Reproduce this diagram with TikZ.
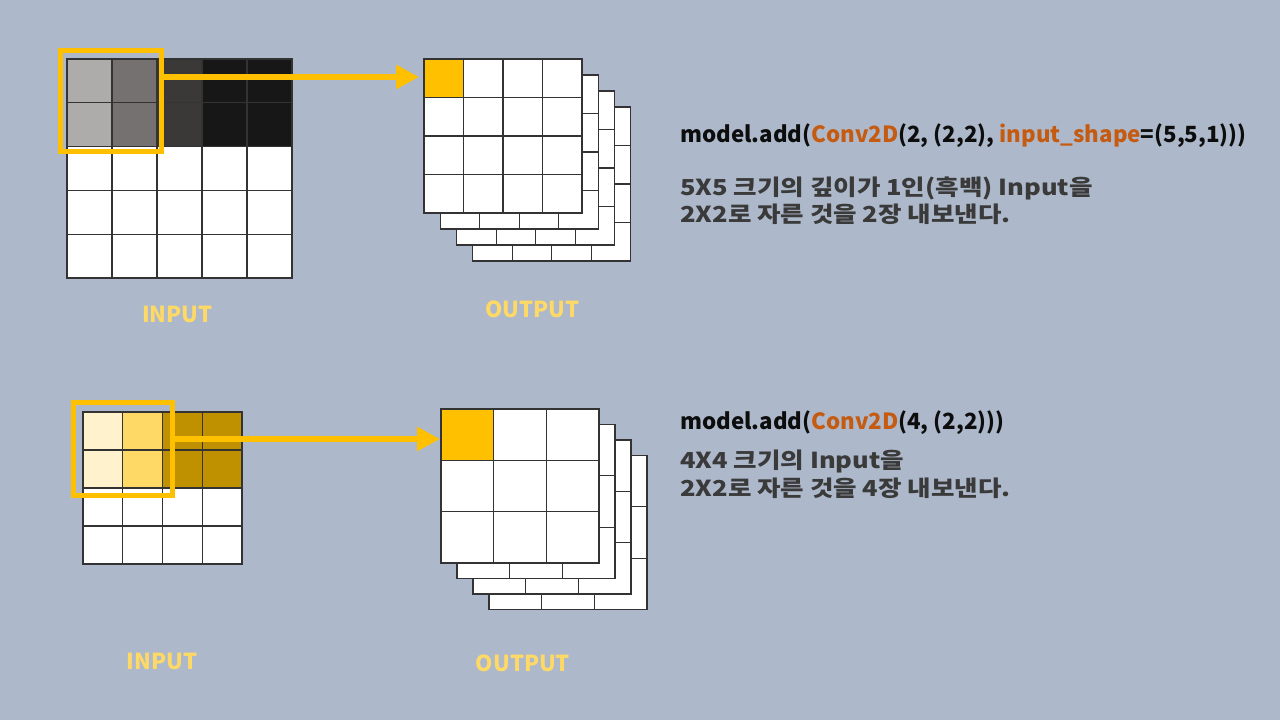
\documentclass[tikz,border=0pt]{standalone}
\usepackage{fontspec}
\setmainfont{Noto Sans CJK KR}
\newfontfamily\descfont{Noto Sans CJK KR}[FakeStretch=1.16]
\usetikzlibrary{arrows.meta}
\definecolor{bg}{HTML}{ADB9CA}
\definecolor{gold}{HTML}{FFC000}
\definecolor{lightgold}{HTML}{FFD966}
\definecolor{gA}{HTML}{AEABAB}
\definecolor{gB}{HTML}{767171}
\definecolor{gC}{HTML}{3B3838}
\definecolor{gD}{HTML}{181717}
\definecolor{yA}{HTML}{FFF2CC}
\definecolor{yB}{HTML}{FFD966}
\definecolor{yC}{HTML}{BF9000}
\definecolor{codeorange}{HTML}{C55A11}
\definecolor{codeblack}{HTML}{0D0D0D}
\definecolor{desccol}{HTML}{3A3A3A}
\newcommand\mygrid[6]{%
  \fill[white] (#1,#2) rectangle ++({#3*#5},{#4*#6});
  \foreach \i in {0,...,#3} \draw[gl] ({#1+\i*#5},#2) -- ++(0,{#4*#6});
  \foreach \j in {0,...,#4} \draw[gl] (#1,{#2+\j*#6}) -- ++({#3*#5},0);
}
\newcommand\mylines[6]{%
  \foreach \i in {0,...,#3} \draw[gl] ({#1+\i*#5},#2) -- ++(0,{#4*#6});
  \foreach \j in {0,...,#4} \draw[gl] (#1,{#2+\j*#6}) -- ++({#3*#5},0);
}
\tikzset{
  gl/.style={draw=black!80,line width=1.1pt,line cap=rect},
  frame/.style={draw=gold,line width=5pt,inner sep=0pt},
  conn/.style={draw=gold,line width=6pt,-{Triangle[length=23pt,width=23pt]}},
  cellbox/.style={inner sep=0pt,outer sep=0pt},
  lbl/.style={font=\bfseries\fontsize{22}{26}\selectfont,text=lightgold,anchor=base,inner sep=0pt},
  code/.style={font=\bfseries\fontsize{22.3}{26}\selectfont,text=codeblack,anchor=base west,inner sep=0pt},
  desc/.style={font=\descfont\bfseries\fontsize{22}{26}\selectfont,text=desccol,anchor=base west,inner sep=0pt}
}
\begin{document}
\begin{tikzpicture}[x=1pt,y=-1pt]
\useasboundingbox[fill=bg] (0,0) rectangle (1280,720);

% ---------- top input 5x5 ----------
\fill[white] (67,59) rectangle (292,278);
\fill[gA] (67,59) rectangle ++(45,87.6);
\fill[gB] (112,59) rectangle ++(45,87.6);
\fill[gC] (157,59) rectangle ++(45,87.6);
\fill[gD] (202,59) rectangle ++(90,87.6);
\mylines{67}{59}{5}{5}{45}{43.8}

% ---------- top output stack ----------
\mygrid{472.9}{107}{4}{4}{39.5}{38.5}
\mygrid{456.6}{91}{4}{4}{39.5}{38.5}
\mygrid{440.3}{75}{4}{4}{39.5}{38.5}
\mygrid{424}{59}{4}{4}{39.5}{38.5}
\node[cellbox,fill=gold,minimum width=39.5pt,minimum height=38.5pt] (o1c) at (443.75,78.25) {};
\mylines{424}{59}{4}{4}{39.5}{38.5}

\node[frame,minimum width=101pt,minimum height=101pt] (f1) at (110.5,100.5) {};
\coordinate (a1s) at (161,77);
\coordinate (a1e) at (419,77);
\draw[conn] (a1s) -- (a1e);

\node[lbl] (in1) at (177.5,322) {INPUT};
\node[lbl] (out1) at (532.5,317) {OUTPUT};

% ---------- bottom input 4x4 ----------
\fill[white] (83,412) rectangle (242,564);
\fill[yA] (83,412) rectangle ++(39.75,76);
\fill[yB] (122.75,412) rectangle ++(39.75,76);
\fill[yC] (162.5,412) rectangle ++(79.5,76);
\mylines{83}{412}{4}{4}{39.75}{38}

% ---------- bottom output stack ----------
\mygrid{489}{455.5}{3}{3}{52.67}{51.33}
\mygrid{473}{440}{3}{3}{52.67}{51.33}
\mygrid{457}{424.5}{3}{3}{52.67}{51.33}
\mygrid{441}{409}{3}{3}{52.67}{51.33}
\node[cellbox,fill=gold,minimum width=52.67pt,minimum height=51.33pt] (o2c) at (467.33,434.67) {};
\mylines{441}{409}{3}{3}{52.67}{51.33}

\node[frame,minimum width=99pt,minimum height=93pt] (f2) at (123,449) {};
\coordinate (a2s) at (172.5,439);
\coordinate (a2e) at (440,439);
\draw[conn] (a2s) -- (a2e);

\node[lbl] (in2) at (162,669) {INPUT};
\node[lbl] (out2) at (523,671) {OUTPUT};

% ---------- texts ----------
\node[code] (t1) at (680,142) {model.add(\textcolor{codeorange}{Conv2D}(2, (2,2), \textcolor{codeorange}{input\_shape}=(5,5,1)))};
\node[desc] (t2) at (680,195) {5X5 크기의 깊이가 1인(흑백) Input을};
\node[desc] (t3) at (680,222) {2X2로 자른 것을 2장 내보낸다.};

\node[code] (t4) at (680,429) {model.add(\textcolor{codeorange}{Conv2D}(4, (2,2)))};
\node[desc] (t5) at (680,468) {4X4 크기의 Input을};
\node[desc] (t6) at (680,496) {2X2로 자른 것을 4장 내보낸다.};
\end{tikzpicture}
\end{document}
